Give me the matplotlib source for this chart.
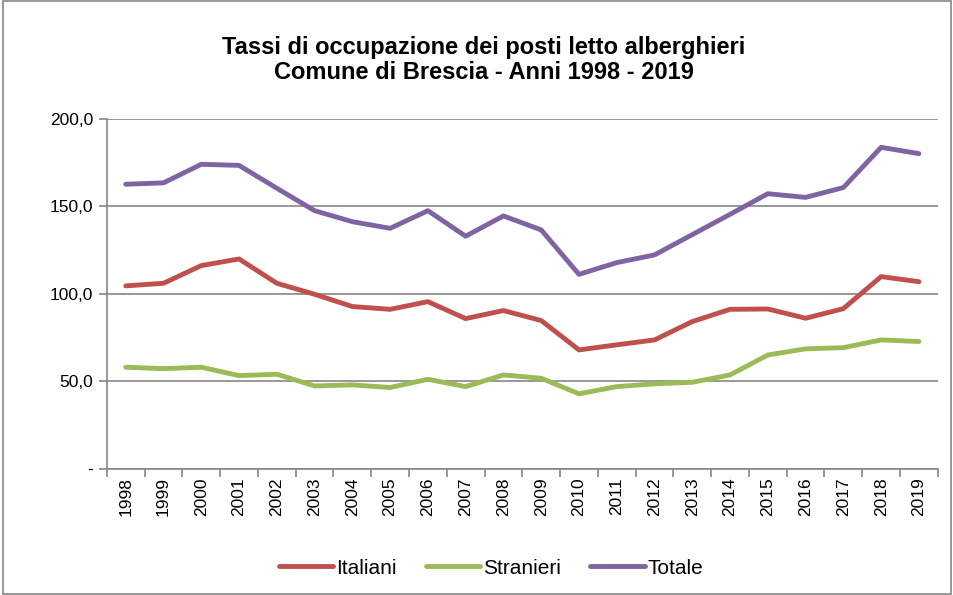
import matplotlib
matplotlib.use("Agg")
import matplotlib.pyplot as plt
import numpy as np
from matplotlib.patches import Rectangle

plt.rcParams['font.family'] = ['Liberation Sans', 'DejaVu Sans']

years = [str(y) for y in range(1998, 2020)]
italiani = [104.6, 106.1, 116.2, 120.0, 106.1, 99.8, 92.8, 91.2, 95.6, 85.9, 90.5,
            84.8, 68.0, 70.9, 73.7, 84.2, 91.2, 91.4, 86.1, 91.6, 109.9, 107.0]
stranieri = [58.1, 57.3, 58.1, 53.3, 54.1, 47.4, 48.0, 46.5, 51.2, 47.0, 53.7,
             51.8, 42.9, 47.0, 48.6, 49.5, 53.7, 65.1, 68.6, 69.3, 73.7, 72.8]
totale = [162.7, 163.5, 174.1, 173.5, 160.4, 147.6, 141.3, 137.5, 147.6, 133.0, 144.6,
          136.6, 111.2, 117.9, 122.3, 133.9, 145.5, 157.3, 155.2, 160.8, 183.8, 180.2]
series_names = ['Italiani', 'Stranieri', 'Totale']
colors = ['#C0504D', '#9BBB59', '#8064A2']
yticks = [0, 50, 100, 150, 200]
ylabels = ['-', '50,0', '100,0', '150,0', '200,0']

fig = plt.figure(figsize=(9.54, 5.95), dpi=100)
ax = fig.add_axes([0.112, 0.212, 0.871, 0.588])

x = np.arange(len(years))
for vals, name, c in zip([italiani, stranieri, totale], series_names, colors):
    ax.plot(x, vals, color=c, lw=3.5, label=name, solid_capstyle='round', solid_joinstyle='round')

ax.set_xlim(-0.5, len(years) - 0.5)
ax.set_ylim(0, 200)
ax.set_yticks(yticks)
ax.set_yticklabels(ylabels, fontsize=12.5)
ax.set_xticks(x)
ax.set_xticklabels(years, rotation=90, fontsize=12.5)
ax.set_xticks(np.arange(-0.5, len(years)), minor=True)
ax.tick_params(axis='x', which='major', length=0, pad=6)
ax.tick_params(axis='x', which='minor', length=6, color='#868686', width=1.2, direction='out')
ax.tick_params(axis='y', length=6, color='#868686', width=1.2, direction='out', pad=4)

ax.grid(axis='y', color='#868686', lw=1.2)
ax.set_axisbelow(True)
for s in ['top', 'right']:
    ax.spines[s].set_visible(False)
for s in ['left', 'bottom']:
    ax.spines[s].set_color('#868686')
    ax.spines[s].set_linewidth(1.2)

fig.text(0.507, 0.899, 'Tassi di occupazione dei posti letto alberghieri\nComune di Brescia - Anni 1998 - 2019',
         ha='center', va='center', fontsize=17, fontweight='bold', linespacing=1.12)

leg = fig.legend(loc='center', bbox_to_anchor=(0.515, 0.045), ncol=3, frameon=False,
                 fontsize=15, handlelength=2.6, handletextpad=0.15, columnspacing=1.4)

fig.patches.append(Rectangle((0.003, 0.002), 0.994, 0.996, transform=fig.transFigure,
                             fill=False, edgecolor='#868686', lw=1.2))

fig.savefig('out.png', dpi=100)
